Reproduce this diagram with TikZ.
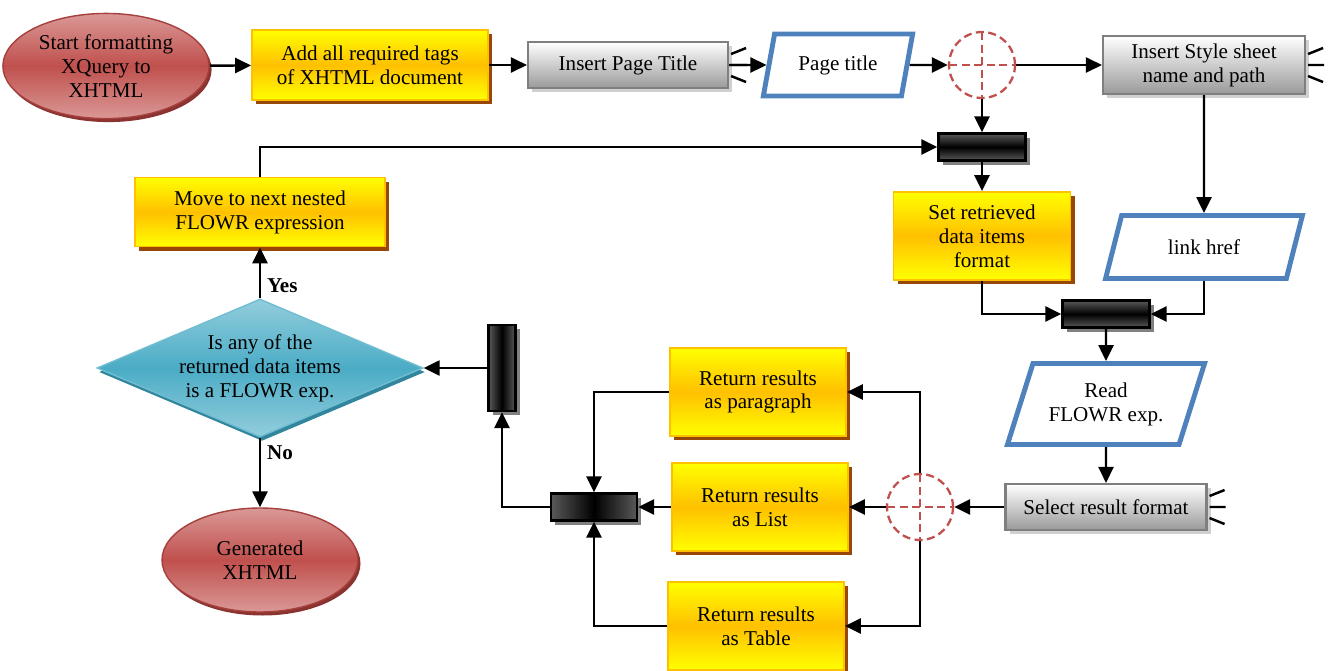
\documentclass[tikz,border=0pt]{standalone}
\usepackage{fontspec}
\setmainfont{Liberation Serif}
\usetikzlibrary{arrows.meta,shapes.geometric,shadows}
\definecolor{StartClr}{HTML}{C0504D}
\definecolor{StartLight}{HTML}{DA9896}
\definecolor{StartEdge}{HTML}{A5403D}
\definecolor{StartShadow}{HTML}{8B3331}
\definecolor{StepTop}{HTML}{FFFF00}
\definecolor{StepMid}{HTML}{FFC000}
\definecolor{StepShadow}{HTML}{984806}
\definecolor{TaskLow}{HTML}{9A9A9A}
\definecolor{TaskEdge}{HTML}{7F7F7F}
\definecolor{TaskShadow}{HTML}{D0D0D0}
\definecolor{DataClr}{HTML}{4F81BD}
\definecolor{CheckClr}{HTML}{C0504D}
\definecolor{AskMid}{HTML}{4BACC6}
\definecolor{AskLight}{HTML}{92CDDC}
\definecolor{AskShadow}{HTML}{31859C}

\newcommand\sidemarks[1]{%
  \draw[line width=1.4pt] ([xshift=0.04cm,yshift=0.22cm]#1.east) -- ++(0.3,0.12)
    ([xshift=0.04cm]#1.east) -- ++(0.32,0)
    ([xshift=0.04cm,yshift=-0.22cm]#1.east) -- ++(0.3,-0.12);}

\tikzset{
  every node/.style={font=\fontsize{12}{13.6}\selectfont},
  flow/.style={line width=1.4pt,-{Triangle[length=0.32cm,width=0.3cm]}},
  terminal/.style={ellipse,draw=StartEdge,line width=0.8pt,top color=StartLight,
    bottom color=StartLight,middle color=StartClr,minimum width=3.92cm,
    minimum height=2.08cm,align=center,
    drop shadow={shadow xshift=0.05cm,shadow yshift=-0.07cm,fill=StartShadow,opacity=1}},
  stepbox/.style={rectangle,draw=StepMid,line width=1pt,top color=StepTop,
    bottom color=StepTop,middle color=StepMid,align=center,
    drop shadow={shadow xshift=0.08cm,shadow yshift=-0.08cm,fill=StepShadow,opacity=1}},
  taskbox/.style={rectangle,draw=TaskEdge,line width=1.2pt,top color=white,
    bottom color=TaskLow,align=center,
    drop shadow={shadow xshift=0.08cm,shadow yshift=-0.08cm,fill=TaskShadow,opacity=1}},
  databox/.style={trapezium,trapezium stretches=true,trapezium left angle=#1,
    trapezium right angle=180-#1,draw=DataClr,line width=2.8pt,align=center,inner sep=0pt},
  checkpt/.style={circle,draw=CheckClr,line width=1.3pt,dash pattern=on 0.16cm off 0.09cm,
    minimum size=1.32cm,inner sep=0pt,
    path picture={\draw[CheckClr,line width=1.3pt,dash pattern=on 0.16cm off 0.09cm]
      (path picture bounding box.north) -- (path picture bounding box.south)
      (path picture bounding box.west) -- (path picture bounding box.east);}},
  hbar/.style={rectangle,draw,line width=1.3pt,top color=black!65,bottom color=black!65,
    middle color=black,minimum width=1.74cm,minimum height=0.54cm,inner sep=0pt,
    drop shadow={shadow xshift=0.08cm,shadow yshift=-0.08cm,fill=black!50,opacity=1}},
  vbar/.style={rectangle,draw,line width=1.3pt,left color=black!65,right color=black!65,
    middle color=black,minimum width=#1,minimum height=0.54cm,inner sep=0pt,
    drop shadow={shadow xshift=0.08cm,shadow yshift=-0.08cm,fill=black!50,opacity=1}},
  ask/.style={diamond,aspect=2.36,draw=AskMid!80!white,line width=0.8pt,top color=AskLight,
    bottom color=AskLight,middle color=AskMid,minimum width=6.52cm,minimum height=2.76cm,
    inner sep=0pt,align=center,
    drop shadow={shadow xshift=0.04cm,shadow yshift=-0.08cm,fill=AskShadow,opacity=1}}
}

\begin{document}
\begin{tikzpicture}
\useasboundingbox (0,0) rectangle (26.6,-13.42);

\node[terminal] (start) at (2.12,-1.32) {Start formatting\\XQuery to\\XHTML};
\node[stepbox,minimum width=4.72cm,minimum height=1.4cm] (tags) at (7.40,-1.30) {Add all required tags\\of XHTML document};
\node[taskbox,minimum width=4.0cm,minimum height=0.92cm] (ipt) at (12.56,-1.30) {Insert Page Title};
\node[databox=70,minimum width=3.0cm,minimum height=1.24cm] (ptitle) at (16.76,-1.30) {Page title};
\node[checkpt] (circA) at (19.64,-1.30) {};
\node[taskbox,minimum width=4.04cm,minimum height=1.16cm] (iss) at (24.08,-1.30) {Insert Style sheet\\name and path};

\node[hbar] (barA) at (19.64,-2.94) {};
\node[stepbox,minimum width=3.54cm,minimum height=1.76cm] (setfmt) at (19.64,-4.72) {Set retrieved\\data items\\format};
\node[databox=65,minimum width=3.94cm,minimum height=1.26cm] (link) at (24.08,-4.94) {link href};
\node[hbar] (barB) at (22.12,-6.28) {};
\node[databox=65,minimum width=3.96cm,minimum height=1.62cm] (read) at (22.12,-8.08) {Read\\FLOWR exp.};
\node[taskbox,minimum width=4.02cm,minimum height=0.92cm] (select) at (22.12,-10.14) {Select result format};
\node[checkpt] (circB) at (18.40,-10.14) {};

\node[stepbox,minimum width=3.52cm,minimum height=1.76cm] (para) at (15.16,-7.84) {Return results\\as paragraph};
\node[stepbox,minimum width=3.52cm,minimum height=1.76cm] (list) at (15.20,-10.14) {Return results\\as List};
\node[stepbox,minimum width=3.52cm,minimum height=1.76cm] (table) at (15.12,-12.52) {Return results\\as Table};
\node[vbar=1.72cm] (barC) at (11.88,-10.14) {};
\node[vbar=0.54cm,minimum height=1.72cm] (barD) at (10.04,-7.36) {};

\node[ask] (decide) at (5.20,-7.36) {Is any of the\\returned data items\\is a FLOWR exp.};
\node[stepbox,minimum width=5.0cm,minimum height=1.38cm] (move) at (5.20,-4.24) {Move to next nested\\FLOWR expression};
\node[terminal] (gen) at (5.20,-11.20) {Generated\\XHTML};

\sidemarks{ipt}
\sidemarks{iss}
\sidemarks{select}

\draw[flow] (start) -- (tags);
\draw[flow] (tags) -- (ipt);
\draw[flow] (ipt) -- (ptitle);
\draw[flow] (ptitle) -- (circA);
\draw[flow] (circA) -- (iss);
\draw[flow] (circA) -- (barA);
\draw[flow] (move.north) |- (barA.west);
\draw[flow] (barA) -- (setfmt);
\draw[flow] (iss) -- (link);
\draw[flow] (setfmt.south) |- (barB.west);
\draw[flow] (link.south) |- (barB.east);
\draw[flow] (barB) -- (read);
\draw[flow] (read) -- (select);
\draw[flow] (select) -- (circB);
\draw[flow] (circB.north) |- (para.east);
\draw[flow] (circB) -- (list);
\draw[flow] (circB.south) |- (table.east);
\draw[flow] (para.west) -| (barC.north);
\draw[flow] (list) -- (barC);
\draw[flow] (table.west) -| (barC.south);
\draw[flow] (barC.west) -| (barD.south);
\draw[flow] (barD) -- (decide);
\draw[flow] (decide.north) -- node[pos=0.24,right,font=\fontsize{12}{13.6}\selectfont\bfseries] {Yes} (move.south);
\draw[flow] (decide.south) -- node[pos=0.22,right,font=\fontsize{12}{13.6}\selectfont\bfseries] {No} (gen.north);

\end{tikzpicture}
\end{document}
